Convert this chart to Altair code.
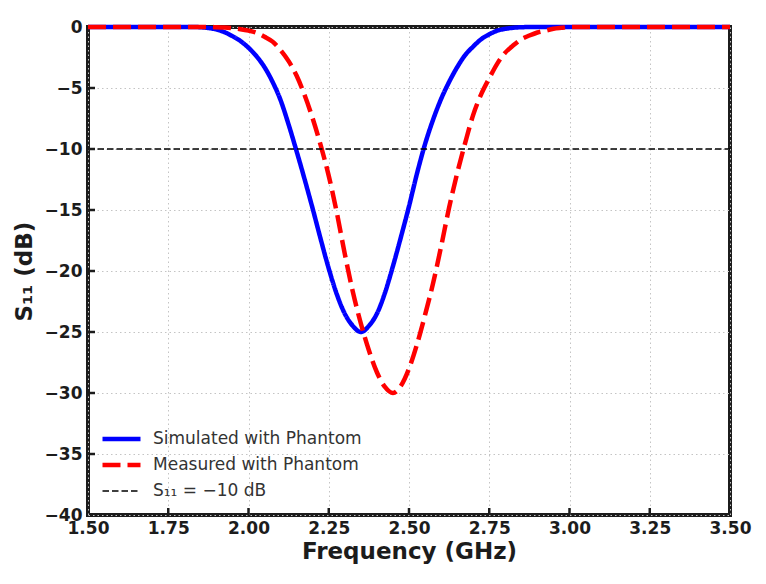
import altair as alt
import pandas as pd

# ---- data ----
freq = [1.50, 1.60, 1.70, 1.75, 1.80, 1.825, 1.85, 1.875, 1.90, 1.925, 1.95, 1.975,
        2.00, 2.025, 2.05, 2.075, 2.10, 2.125, 2.15, 2.175, 2.20, 2.225, 2.25, 2.275,
        2.30, 2.325, 2.35, 2.375, 2.40, 2.425, 2.45, 2.475, 2.50, 2.525, 2.55, 2.575,
        2.60, 2.625, 2.65, 2.675, 2.70, 2.725, 2.75, 2.775, 2.80, 2.825, 2.85, 2.875,
        2.90, 2.925, 2.95, 2.975, 3.00, 3.05, 3.10, 3.20, 3.30, 3.40, 3.50]

simulated = [0, 0, 0, 0, 0, 0, -0.02, -0.08, -0.2, -0.42, -0.75, -1.15,
             -1.7, -2.4, -3.3, -4.5, -6.0, -8.0, -10.2, -12.5, -14.9, -17.4, -19.8, -21.9,
             -23.5, -24.5, -25.0, -24.5, -23.5, -21.8, -19.6, -17.2, -14.7, -12.0, -9.6, -7.6,
             -5.9, -4.5, -3.3, -2.3, -1.6, -1.0, -0.6, -0.3, -0.15, -0.06, -0.02, 0,
             0, 0, 0, 0, 0, 0, 0, 0, 0, 0, 0]

measured = [0, 0, 0, 0, 0, 0, 0, 0, -0.02, -0.05, -0.1, -0.18,
            -0.3, -0.48, -0.8, -1.2, -1.9, -2.8, -4.0, -5.6, -7.5, -9.7, -12.2, -15.2,
            -18.6, -21.7, -24.3, -26.5, -28.3, -29.5, -30.0, -29.4, -28.0, -26.0, -23.6, -21.0,
            -18.0, -14.8, -12.0, -9.5, -7.2, -5.5, -4.2, -3.0, -2.1, -1.5, -1.0, -0.7,
            -0.45, -0.3, -0.15, -0.07, 0, 0, 0, 0, 0, 0, 0]

ref_freq = [1.5, 3.5]
ref_level = [-10, -10]

x_ticks = [1.5, 1.75, 2.0, 2.25, 2.5, 2.75, 3.0, 3.25, 3.5]
y_ticks = [0, -5, -10, -15, -20, -25, -30, -35, -40]

SIM = "Simulated with Phantom"
MEAS = "Measured with Phantom"
REF = "S₁₁ = −10 dB"
series_order = [SIM, MEAS, REF]

rows = []
for f, v in zip(freq, simulated):
    rows.append({"f": f, "v": v, "series": SIM})
for f, v in zip(freq, measured):
    rows.append({"f": f, "v": v, "series": MEAS})
for f, v in zip(ref_freq, ref_level):
    rows.append({"f": f, "v": v, "series": REF})
df = pd.DataFrame(rows)

W, H = 642, 488
xscale = alt.Scale(domain=[1.5, 3.5], nice=False, zero=False)
yscale = alt.Scale(domain=[-40, 0], nice=False, zero=False)

xaxis = alt.Axis(values=x_ticks, format=".2f", title="Frequency (GHz)",
                 labelPadding=5, titlePadding=4, labelFlush=False, labelOverlap=False)
yaxis = alt.Axis(values=y_ticks, format="d", title="S₁₁ (dB)",
                 labelPadding=6, titlePadding=8, labelFlush=False, labelOverlap=False)

legend = alt.Legend(
    title=None, orient="none", legendX=12, legendY=402, padding=0,
    symbolType="stroke", symbolSize=1444, clipHeight=20, rowPadding=6,
    labelFont="DejaVu Sans", labelFontSize=17, labelColor="#333333",
    labelOffset=10, labelLimit=400,
)

lines = alt.Chart(df).mark_line(interpolate="monotone").encode(
    x=alt.X("f:Q", scale=xscale, axis=xaxis),
    y=alt.Y("v:Q", scale=yscale, axis=yaxis),
    color=alt.Color("series:N",
                    scale=alt.Scale(domain=series_order, range=["#0000ff", "#ff0000", "#000000"]),
                    legend=legend),
    strokeDash=alt.StrokeDash("series:N",
                              scale=alt.Scale(domain=series_order, range=[[1, 0], [18, 7], [6.5, 3]]),
                              legend=legend),
    strokeWidth=alt.StrokeWidth("series:N",
                                scale=alt.Scale(type="ordinal", domain=series_order, range=[4.5, 4.5, 1.6]),
                                legend=legend),
)

xt = alt.Chart(pd.DataFrame({"f": x_ticks[1:-1]})).mark_rule(color="#1c1c1c", strokeWidth=2.5).encode(
    x=alt.X("f:Q", scale=xscale, axis=xaxis),
    y=alt.value(H),
    y2=alt.value(H - 7),
)
yt = alt.Chart(pd.DataFrame({"v": y_ticks[1:-1]})).mark_rule(color="#1c1c1c", strokeWidth=2.5).encode(
    y=alt.Y("v:Q", scale=yscale, axis=yaxis),
    x=alt.value(0),
    x2=alt.value(7),
)

chart = alt.layer(lines, xt, yt).properties(
    width=W, height=H,
    padding={"left": 88, "top": 27, "right": 36, "bottom": 69},
    autosize=alt.AutoSizeParams(type="none"),
    background="white",
).configure_view(
    stroke="#1c1c1c", strokeWidth=4,
).configure_axis(
    domain=False, ticks=False, grid=True,
    gridColor="#c4c4c4", gridDash=[1.5, 3], gridWidth=1,
    labelFont="DejaVu Sans", labelFontWeight="bold", labelFontSize=17, labelColor="#1c1c1c",
    titleFont="DejaVu Sans", titleFontWeight="bold", titleFontSize=23, titleColor="#1c1c1c",
)

chart.save("out.html", embed_options={"renderer": "svg", "actions": False})
